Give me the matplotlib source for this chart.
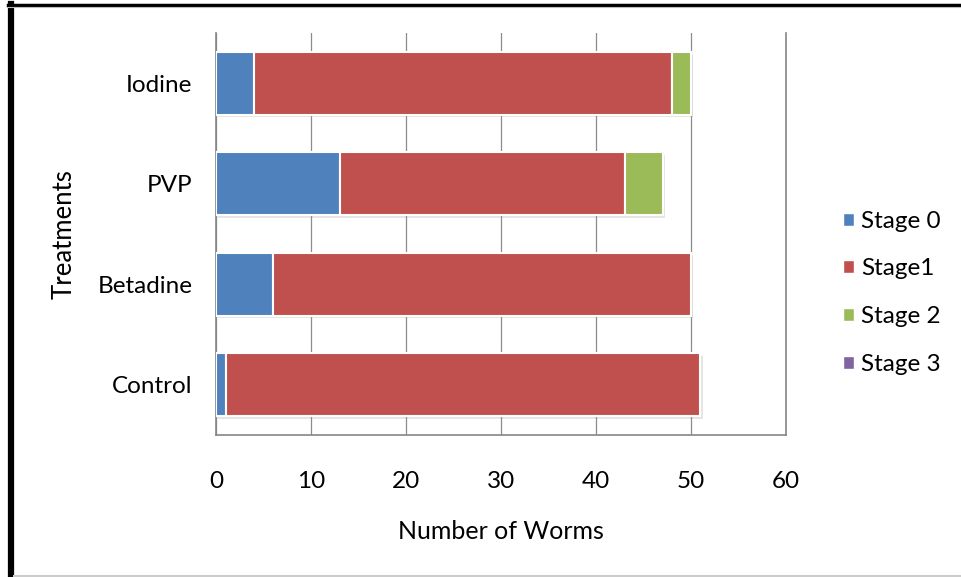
import matplotlib.pyplot as plt
import matplotlib.patheffects as pe
from matplotlib.patches import Rectangle
from matplotlib.lines import Line2D

treatments = ['Control', 'Betadine', 'PVP', 'Iodine']
stage_names = ['Stage 0', 'Stage1', 'Stage 2', 'Stage 3']
stage0 = [1, 6, 13, 4]
stage1 = [50, 44, 30, 44]
stage2 = [0, 0, 4, 2]
stage3 = [0, 0, 0, 0]
colors = ['#4f81bd', '#c0504d', '#9bbb59', '#8064a2']
xticks = [0, 10, 20, 30, 40, 50, 60]

plt.rcParams['font.family'] = ['Lato', 'DejaVu Sans']

fig = plt.figure(figsize=(9.62, 5.77), dpi=100)
ax = fig.add_axes([216 / 962, 1 - 435 / 577, 570 / 962, 402 / 577])

shadow = [pe.SimplePatchShadow(offset=(1.5, -2), shadow_rgbFace='#999999', alpha=0.25),
          pe.Normal()]

left = [0] * len(treatments)
for name, vals, col in zip(stage_names, [stage0, stage1, stage2, stage3], colors):
    bars = ax.barh(treatments, vals, left=left, height=0.625, color=col,
                   edgecolor='white', linewidth=1.5, label=name, zorder=3)
    for b, v in zip(bars, vals):
        if v > 0:
            b.set_path_effects(shadow)
        else:
            b.set_visible(False)
    left = [l + v for l, v in zip(left, vals)]

ax.set_xlim(0, 60)
ax.set_ylim(-0.5, 3.5)
ax.set_xticks(xticks)
ax.xaxis.grid(True, color='#8c8c8c', linewidth=0.9, zorder=0)
ax.set_axisbelow(True)
for side in ['left', 'bottom', 'right']:
    ax.spines[side].set_color('#868686')
    ax.spines[side].set_linewidth(1.2)
ax.spines['top'].set_visible(False)
ax.tick_params(axis='both', length=0, labelsize=17.5, colors='black')
ax.tick_params(axis='x', pad=26)
ax.tick_params(axis='y', pad=17)

ax.set_xlabel('Number of Worms', fontsize=18, labelpad=20)
ax.set_ylabel('Treatments', fontsize=18.5, labelpad=15)

handles = [Rectangle((0, 0), 1, 1, facecolor=c, edgecolor='white') for c in colors]
fig.legend(handles, stage_names, loc='upper left', bbox_to_anchor=(833 / 962, 1 - 201 / 577),
           frameon=False, fontsize=17.5, handlelength=0.45, handleheight=0.45,
           handletextpad=0.3, labelspacing=1.1, borderaxespad=0)

# frame around the whole chart
fig.add_artist(Line2D([11 / 962, 11 / 962], [0, 1 - 4 / 577], color='black',
                      linewidth=4.5, transform=fig.transFigure))
fig.add_artist(Line2D([8 / 962, 1], [1 - 4.5 / 577, 1 - 4.5 / 577], color='black',
                      linewidth=2.5, transform=fig.transFigure))
fig.add_artist(Line2D([8 / 962, 1], [1 - 7 / 577, 1 - 7 / 577], color='#bbbbbb',
                      linewidth=0.8, transform=fig.transFigure))
fig.add_artist(Line2D([14 / 962, 1], [1.5 / 577, 1.5 / 577], color='#cccccc',
                      linewidth=1.5, transform=fig.transFigure))

fig.savefig('out.png', dpi=100)
